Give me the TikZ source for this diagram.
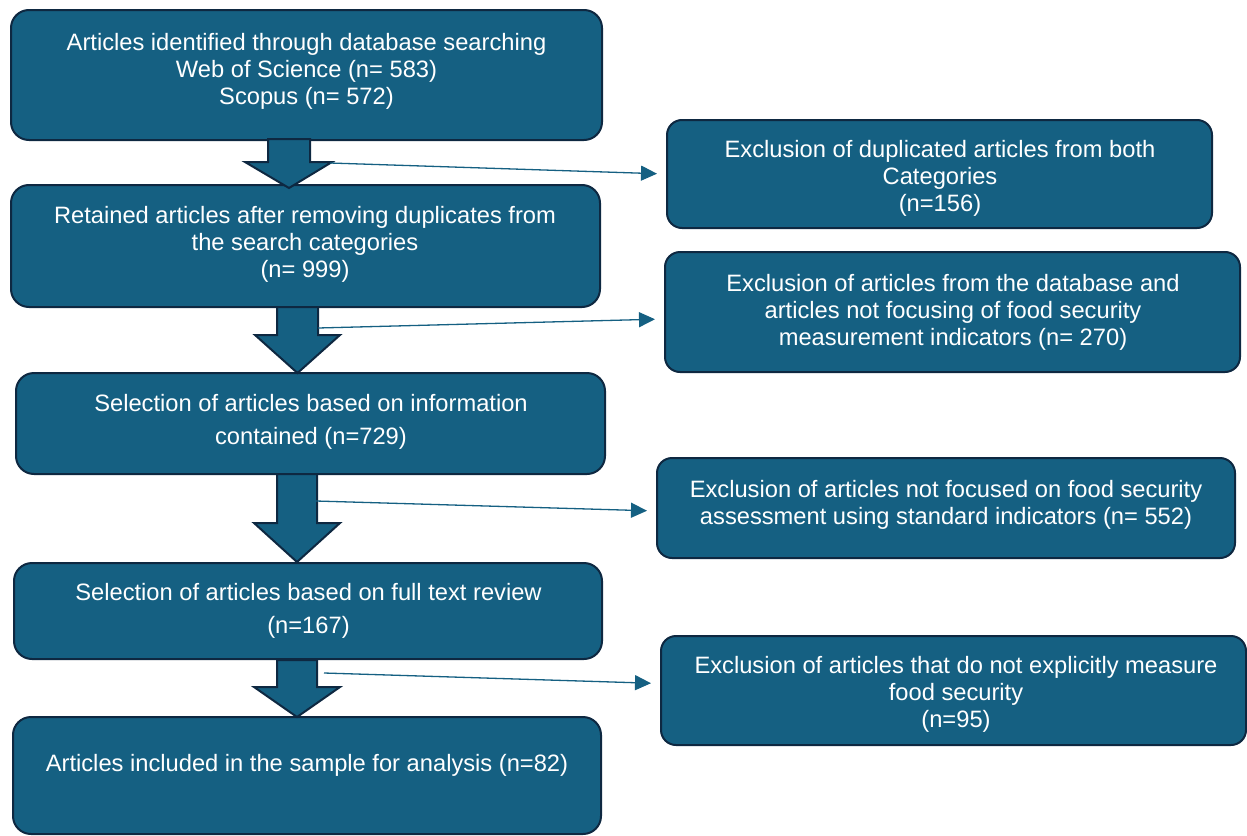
\documentclass[tikz,border=0pt]{standalone}
\usepackage{fontspec}
\setmainfont{Liberation Sans}
\usetikzlibrary{arrows.meta,calc}
\definecolor{boxfill}{HTML}{156082}
\definecolor{boxline}{HTML}{0E2841}
\tikzset{
  flowbox/.style={draw=boxline, fill=boxfill, line width=2pt, rounded corners=18pt, inner sep=0pt},
  txt/.style={text=white, align=center, inner sep=0pt, font=\fontsize{23.7}{27}\selectfont},
  blockarrow/.style={draw=boxline, fill=boxfill, line width=2pt, line join=miter},
  thinarrow/.style={draw=boxfill, line width=1.3pt, -{Triangle[length=16pt,width=15pt]}, shorten >=9pt}
}
\begin{document}
\begin{tikzpicture}[x=1pt,y=-1pt]
\useasboundingbox (0,0) rectangle (1247,835);
% left boxes
\node[flowbox, minimum width=591pt, minimum height=130pt] (b1) at (306.5,75) {};
\node[flowbox, minimum width=589pt, minimum height=122pt] (b2) at (305.5,246) {};
\node[flowbox, minimum width=589pt, minimum height=101pt] (b3) at (310.5,423.5) {};
\node[flowbox, minimum width=588pt, minimum height=96pt] (b4) at (308,611) {};
\node[flowbox, minimum width=588pt, minimum height=117pt] (b5) at (307,775.5) {};
% right boxes
\node[flowbox, minimum width=545pt, minimum height=108pt, rounded corners=15pt] (r1) at (939.5,174) {};
\node[flowbox, minimum width=575pt, minimum height=120pt, rounded corners=15pt] (r2) at (952.5,312) {};
\node[flowbox, minimum width=578pt, minimum height=100pt, rounded corners=15pt] (r3) at (946,508) {};
\node[flowbox, minimum width=585pt, minimum height=109pt, rounded corners=15pt] (r4) at (953.5,690.5) {};
% texts
\node[txt] (t1) at (306.5,71) {Articles identified through database searching\\Web of Science (n= 583)\\Scopus (n= 572)};
\node[txt] (t2) at (305,244.5) {Retained articles after removing duplicates from\\the search categories\\(n= 999)};
\node[txt] (t3) at (311,421.5) {Selection of articles based on information\\[6pt]contained (n=729)};
\node[txt] (t4) at (308.5,611) {Selection of articles based on full text review\\[6pt](n=167)};
\node[txt] (t5) at (307,765) {Articles included in the sample for analysis (n=82)};
\node[txt] (u1) at (940,178.5) {Exclusion of duplicated articles from both\\Categories\\(n=156)};
\node[txt] (u2) at (953,312) {Exclusion of articles from the database and\\articles not focusing of food security\\measurement indicators (n= 270)};
\node[txt] (u3) at (946,505) {Exclusion of articles not focused on food security\\assessment using standard indicators (n= 552)};
\node[txt] (u4) at (956,694.5) {Exclusion of articles that do not explicitly measure\\food security\\(n=95)};
% block arrows
\draw[blockarrow] (268,139) -- (268,162) -- (245,162) -- (289,188) -- (332,162) -- (310,162) -- (310,139) -- cycle;
\draw[blockarrow] (277,307) -- (277,335) -- (255,335) -- (297.5,373) -- (340,335) -- (318,335) -- (318,307) -- cycle;
\draw[blockarrow] (277,474) -- (277,523) -- (254,523) -- (297,562) -- (340,523) -- (317,523) -- (317,474) -- cycle;
\draw[blockarrow] (277,660) -- (277,687) -- (254,687) -- (297,717) -- (340,687) -- (317,687) -- (317,660) -- cycle;
% thin arrows
\coordinate (s1) at (330,163);
\coordinate (s2) at (318,328);
\coordinate (s3) at (316,501);
\coordinate (s4) at (324,673);
\draw[thinarrow] (s1) -- ($(r1.west)+(0,0)$);
\draw[thinarrow] (s2) -- ($(r2.west)+(0,7)$);
\draw[thinarrow] (s3) -- ($(r3.west)+(0,3)$);
\draw[thinarrow] (s4) -- ($(r4.west)+(0,-7)$);
\end{tikzpicture}
\end{document}
